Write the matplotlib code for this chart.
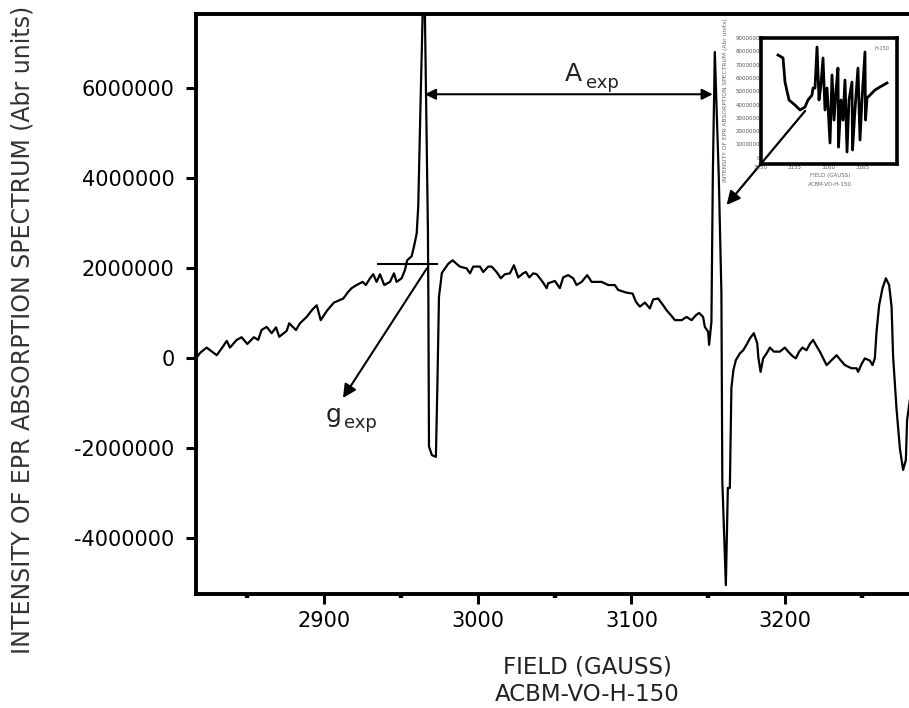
import numpy as np
import matplotlib
matplotlib.use("Agg")
import matplotlib.pyplot as plt
from matplotlib.ticker import FixedLocator, FuncFormatter

plt.rcParams["font.family"] = ["DejaVu Sans"]
plt.rcParams["axes.unicode_minus"] = False

# EPR spectrum: magnetic field (gauss) and intensity (millions of arbitrary units)
field = [
    2816.5, 2819.1, 2823.4, 2830.0, 2834.2, 2836.5, 2838.6, 2843.0, 2846.2, 2849.9,
    2854.2, 2857.0, 2859.2, 2862.5, 2865.8, 2868.6, 2870.7, 2875.5, 2877.2, 2881.6,
    2884.2, 2888.5, 2892.4, 2895.1, 2897.7, 2902.0, 2906.3, 2912.4, 2915.6, 2917.8,
    2921.1, 2925.0, 2927.1, 2929.8, 2931.9, 2934.1, 2936.3, 2939.1, 2942.8, 2945.4,
    2947.1, 2950.4, 2952.5, 2954.0, 2956.9, 2958.4, 2960.2, 2961.2, 2962.6, 2965.0,
    2967.5, 2967.8, 2968.2, 2970.1, 2972.7, 2973.7, 2974.7, 2976.6, 2980.7, 2983.6,
    2986.2, 2988.3, 2992.7, 2994.9, 2997.0, 3001.4, 3003.5, 3006.8, 3009.0, 3012.2,
    3015.0, 3017.6, 3020.9, 3023.5, 3026.3, 3029.5, 3031.3, 3033.5, 3036.1, 3038.3,
    3040.4, 3042.6, 3044.8, 3045.8, 3050.2, 3053.4, 3055.6, 3058.8, 3062.1, 3064.3,
    3067.6, 3071.2, 3074.1, 3080.6, 3084.9, 3089.2, 3091.4, 3096.9, 3100.8, 3102.9,
    3105.5, 3108.8, 3112.0, 3114.2, 3117.4, 3120.7, 3122.9, 3126.2, 3128.3, 3132.7,
    3135.9, 3139.2, 3142.0, 3144.1, 3146.7, 3147.8, 3150.0, 3150.6, 3152.1, 3153.0,
    3154.3, 3156.9, 3158.6, 3159.2, 3161.5, 3162.8, 3164.1, 3165.1, 3166.4, 3168.0,
    3170.6, 3172.8, 3175.4, 3177.1, 3179.7, 3181.9, 3182.7, 3184.1, 3185.8, 3188.0,
    3190.2, 3192.8, 3196.7, 3199.9, 3202.1, 3204.9, 3207.1, 3209.2, 3211.4, 3214.0,
    3216.2, 3218.3, 3220.6, 3222.7, 3224.9, 3227.1, 3230.3, 3233.6, 3235.7, 3239.0,
    3243.3, 3246.6, 3247.6, 3249.8, 3252.0, 3255.3, 3257.0, 3258.5, 3259.6, 3261.3,
    3263.5, 3265.7, 3267.8, 3269.4, 3270.4, 3272.6, 3274.8, 3276.9, 3278.7, 3279.5,
    3281.3,
]
intensity_m = [
    0.00, 0.12, 0.24, 0.07, 0.27, 0.39, 0.24, 0.41, 0.47, 0.32,
    0.47, 0.41, 0.63, 0.70, 0.56, 0.69, 0.48, 0.61, 0.78, 0.63,
    0.78, 0.92, 1.09, 1.18, 0.85, 1.07, 1.24, 1.33, 1.48, 1.56,
    1.63, 1.70, 1.63, 1.78, 1.87, 1.70, 1.87, 1.63, 1.70, 1.89,
    1.70, 1.78, 1.96, 2.18, 2.27, 2.48, 2.78, 3.37, 5.52, 9.00,
    2.85, 1.30, -1.96, -2.15, -2.19, -0.55, 1.37, 1.90, 2.10, 2.18,
    2.10, 2.04, 2.00, 1.89, 2.04, 2.04, 1.92, 2.04, 2.04, 1.92,
    1.78, 1.87, 1.89, 2.07, 1.80, 1.89, 1.92, 1.80, 1.89, 1.87,
    1.78, 1.68, 1.56, 1.67, 1.72, 1.56, 1.80, 1.85, 1.78, 1.63,
    1.70, 1.85, 1.70, 1.70, 1.63, 1.63, 1.52, 1.46, 1.44, 1.26,
    1.15, 1.24, 1.11, 1.31, 1.33, 1.18, 1.07, 0.94, 0.85, 0.85,
    0.92, 0.85, 0.96, 1.01, 0.92, 0.70, 0.59, 0.30, 0.81, 4.03,
    6.81, 4.03, 1.45, -2.74, -5.04, -2.88, -2.88, -0.66, -0.26, -0.04,
    0.11, 0.18, 0.33, 0.44, 0.56, 0.34, 0.01, -0.30, 0.00, 0.11,
    0.24, 0.15, 0.15, 0.24, 0.15, 0.05, 0.00, 0.15, 0.24, 0.18,
    0.32, 0.41, 0.27, 0.15, 0.00, -0.15, -0.04, 0.07, -0.02, -0.15,
    -0.22, -0.22, -0.30, -0.13, 0.00, -0.05, -0.15, 0.00, 0.59, 1.18,
    1.56, 1.78, 1.63, 1.15, 0.04, -1.11, -2.00, -2.48, -2.26, -1.37,
    -0.93,
]

# Enlarged view of the high-field line (inset)
inset_field = [
    3152.50, 3153.24, 3153.53, 3154.12, 3155.00, 3155.74, 3156.47, 3156.91, 3157.50, 3157.65,
    3157.94, 3158.24, 3158.53, 3158.82, 3159.12, 3159.41, 3159.71, 3160.15, 3160.44, 3160.74,
    3161.03, 3161.32, 3161.40, 3161.76, 3162.06, 3162.35, 3162.65, 3162.94, 3163.38, 3163.46,
    3163.82, 3164.26, 3164.56, 3164.85, 3165.29, 3165.37, 3165.59, 3166.03, 3166.76, 3167.50,
    3168.53,
]
inset_intensity_m = [
    7.72, 7.50, 5.69, 4.34, 3.96, 3.59, 3.81, 4.34, 4.71, 5.24,
    5.24, 8.32, 4.34, 5.47, 7.50, 3.59, 5.24, 1.11, 6.22, 2.83,
    5.09, 6.74, 0.80, 4.34, 2.83, 5.84, 0.43, 4.34, 5.69, 0.58,
    3.59, 6.74, 1.33, 4.34, 7.95, 2.83, 4.49, 4.71, 5.09, 5.32,
    5.62,
]

x_major = [2900, 3000, 3100, 3200]
x_minor = [2850, 2950, 3050, 3150, 3250]
y_major = [-4000000, -2000000, 0, 2000000, 4000000, 6000000]

W, H = 909, 708
fig = plt.figure(figsize=(W / 100, H / 100), dpi=100)
ax = fig.add_axes([196 / W, 1 - 594 / H, (912 - 196) / W, (594 - 14) / H])

ax.plot(field, np.array(intensity_m) * 1e6, color="black", lw=1.6)
ax.set_xlim(2816.5, 3282.7)
ax.set_ylim(-5.237e6, 7.654e6)

ax.set_xticks(x_major)
ax.xaxis.set_minor_locator(FixedLocator(x_minor))
ax.set_yticks(y_major)
ax.yaxis.set_major_formatter(FuncFormatter(lambda v, p: "%d" % round(v)))
ax.tick_params(which="major", direction="out", length=7.5, width=2.2,
               labelsize=15, colors="black")
ax.tick_params(axis="y", which="major", pad=8)
ax.tick_params(axis="x", which="major", pad=5)
ax.tick_params(which="minor", direction="out", length=3, width=3.2)
for s in ax.spines.values():
    s.set_linewidth(2.8)

# axis titles
fig.text(587 / W, 1 - 667.5 / H, "FIELD (GAUSS)", ha="center", va="center",
         fontsize=16.5, color="#222222")
fig.text(587 / W, 1 - 694.5 / H, "ACBM-VO-H-150", ha="center", va="center",
         fontsize=16.5, color="#222222")
fig.text(23 / W, 1 - 330 / H, "INTENSITY OF EPR ABSORPTION SPECTRUM (Abr units)",
         rotation=90, ha="center", va="center", fontsize=17, color="#333333")

# hyperfine splitting A_exp between the two lines
ax.annotate("", xy=(2965.5, 5.87e6), xytext=(3153.0, 5.87e6),
            arrowprops=dict(arrowstyle="<|-|>", mutation_scale=16, lw=1.5,
                            color="black", shrinkA=0, shrinkB=0))
ax.text(3056.7, 6.16e6, "A", fontsize=18, ha="left", va="baseline", color="#222222")
ax.text(3070.4, 6.01e6, "exp", fontsize=13, ha="left", va="baseline", color="#222222")

# g_exp marker: crossing at the first line
ax.plot([2935.0, 2973.4], [2.09e6, 2.09e6], color="black", lw=1.5)
ax.annotate("", xy=(2912.2, -0.88e6), xytext=(2966.8, 2.0e6),
            arrowprops=dict(arrowstyle="-|>", mutation_scale=20, lw=1.5,
                            color="black", shrinkA=0, shrinkB=0))
ax.text(2901.1, -1.415e6, "g", fontsize=18, ha="left", va="baseline", color="#222222")
ax.text(2912.8, -1.55e6, "exp", fontsize=13, ha="left", va="baseline", color="#222222")

# pointer from the inset to the high-field line
ax.annotate("", xy=(3162.0, 3.41e6), xytext=(3213.1, 5.50e6),
            arrowprops=dict(arrowstyle="-|>", mutation_scale=20, lw=1.6,
                            color="black", shrinkA=0, shrinkB=0))

# inset
ins = fig.add_axes([761 / W, 1 - 164 / H, 136 / W, 126 / H])
ins.patch.set_facecolor("none")
ins.plot(inset_field, inset_intensity_m, color="black", lw=2.0)
ins.set_xlim(3150, 3170)
ins.set_ylim(-0.47, 9.0)
ins.set_xticks([3150, 3155, 3160, 3165])
ins.set_yticks(list(range(10)))
ins.yaxis.set_major_formatter(FuncFormatter(lambda v, p: "%d" % round(v * 1e6)))
ins.tick_params(length=0, labelsize=4, pad=0.8, colors="#555555")
for s in ins.spines.values():
    s.set_linewidth(2.6)
    s.set_color("black")
fig.text(830 / W, 1 - 176 / H, "FIELD (GAUSS)", ha="center", va="center",
         fontsize=4, color="#666666")
fig.text(830 / W, 1 - 185 / H, "ACBM-VO-H-150", ha="center", va="center",
         fontsize=4, color="#666666")
fig.text(726 / W, 1 - 100 / H, "INTENSITY OF EPR ABSORPTION SPECTRUM (Abr units)",
         rotation=90, ha="center", va="center", fontsize=4.3, color="#666666")
fig.text(882 / W, 1 - 49 / H, "H-150", ha="center", va="center",
         fontsize=3.5, color="#666666")

fig.savefig("out.png", dpi=100)
